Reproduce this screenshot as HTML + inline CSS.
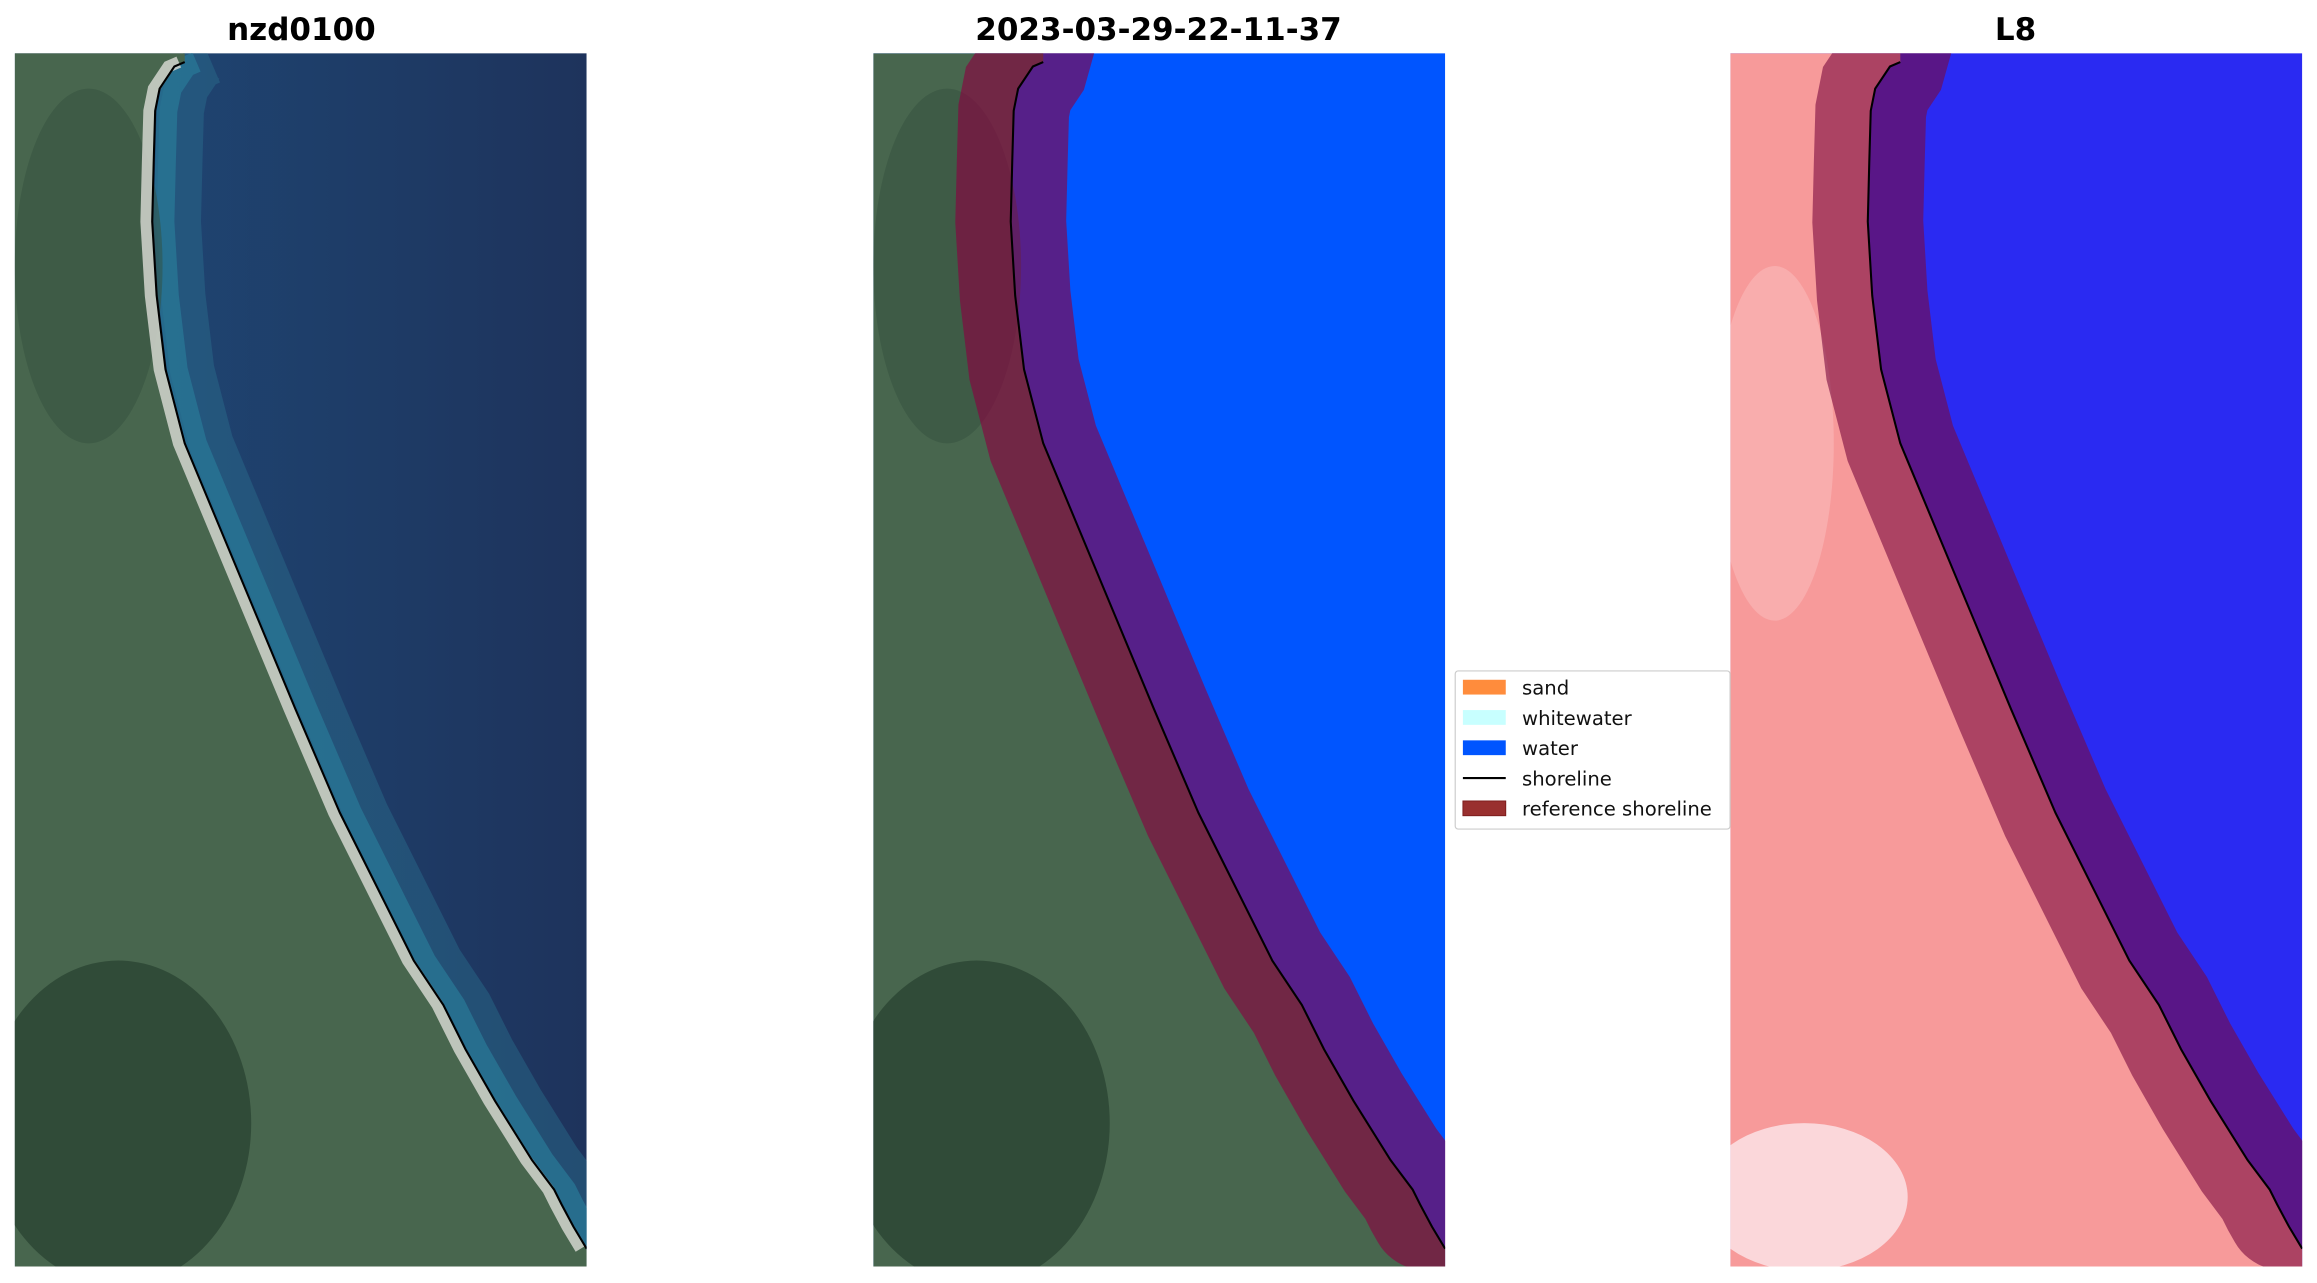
<!DOCTYPE html>
<html><head><meta charset="utf-8"><style>html,body{margin:0;padding:0;background:#fff}svg{display:block}</style></head>
<body>
<svg width="2317" height="1283" viewBox="0 0 1568 868.2" preserveAspectRatio="none" xmlns="http://www.w3.org/2000/svg">
<defs>
<path id="sh" d="M125,42 L118,45 L108,60 L105,75 L104,110 L103,150 L106,200 L112,250 L125,300 L150,360 L175,420 L200,480 L230,550 L260,610 L280,650 L300,680 L315,710 L335,745 L360,785 L375,805 L380,815 L388,830 L397,845"/>
<path id="band" d="M125,20 L118,45 L108,60 L105,75 L104,110 L103,150 L106,200 L112,250 L125,300 L150,360 L175,420 L200,480 L230,550 L260,610 L280,650 L300,680 L315,710 L335,745 L360,785 L375,805 L380,815 L384,822"/>
<path id="land" d="M125,36 L125,42 L118,45 L108,60 L105,75 L104,110 L103,150 L106,200 L112,250 L125,300 L150,360 L175,420 L200,480 L230,550 L260,610 L280,650 L300,680 L315,710 L335,745 L360,785 L375,805 L380,815 L388,830 L397,845 L397,857 L10,857 L10,36 Z"/>
<clipPath id="c"><rect x="10" y="36" width="387" height="821"/></clipPath>
<linearGradient id="sea" x1="0" x2="1" y1="0" y2="0"><stop offset="0" stop-color="#1f4a78"/><stop offset="1" stop-color="#1e335c"/></linearGradient>
</defs>
<g font-family="'DejaVu Sans','Liberation Sans',sans-serif" font-weight="bold" font-size="21" text-anchor="middle">
<text x="204" y="27">nzd0100</text>
<text x="784" y="27">2023-03-29-22-11-37</text>
<text x="1364" y="27">L8</text>
</g>
<!-- panel 1 -->
<g clip-path="url(#c)">
<rect x="10" y="36" width="387" height="821" fill="url(#sea)"/>
<use href="#sh" transform="translate(18,0)" fill="none" stroke="#2a6f8f" stroke-width="30" opacity="0.45"/>
<use href="#sh" transform="translate(8,0)" fill="none" stroke="#2a7a98" stroke-width="14" opacity="0.7"/>
<use href="#land" fill="#48664e"/>
<ellipse cx="80" cy="760" rx="90" ry="110" fill="#22382a" opacity="0.6"/>
<ellipse cx="60" cy="180" rx="50" ry="120" fill="#33503d" opacity="0.5"/>
<use href="#sh" transform="translate(-4,0)" fill="none" stroke="#d4d6cf" stroke-width="8" opacity="0.85"/>
<use href="#sh" fill="none" stroke="#000" stroke-width="1.4"/>
</g>
<!-- panel 2 -->
<g transform="translate(581,0)" clip-path="url(#c)">
<rect x="10" y="36" width="387" height="821" fill="#0055ff"/>
<use href="#land" fill="#48664e"/>
<ellipse cx="80" cy="760" rx="90" ry="110" fill="#22382a" opacity="0.6"/>
<ellipse cx="60" cy="180" rx="50" ry="120" fill="#33503d" opacity="0.5"/>
<use href="#band" fill="none" stroke="#8a0040" stroke-width="75" stroke-linecap="round" opacity="0.62"/>
<use href="#sh" fill="none" stroke="#000" stroke-width="1.4"/>
</g>
<!-- panel 3 -->
<g transform="translate(1161,0)" clip-path="url(#c)">
<rect x="10" y="36" width="387" height="821" fill="#2a2af2"/>
<use href="#land" fill="#f79a9a"/>
<ellipse cx="60" cy="810" rx="70" ry="50" fill="#fbe6ea" opacity="0.8"/>
<ellipse cx="40" cy="300" rx="40" ry="120" fill="#fbc0c0" opacity="0.5"/>
<use href="#band" fill="none" stroke="#7a0a40" stroke-width="75" stroke-linecap="round" opacity="0.6"/>
<use href="#sh" fill="none" stroke="#000" stroke-width="1.4"/>
</g>
<!-- legend -->
<g>
<rect x="984.8" y="454" width="186" height="107" rx="2" fill="#fff" stroke="#ccc" stroke-width="0.8"/>
<rect x="990" y="460" width="29" height="10" fill="#ff8c3c"/>
<rect x="990" y="480.5" width="29" height="10" fill="#c8ffff"/>
<rect x="990" y="501" width="29" height="10" fill="#0055ff"/>
<line x1="990" y1="526.5" x2="1019" y2="526.5" stroke="#000" stroke-width="1.5"/>
<rect x="990" y="542" width="29" height="10" fill="#99302f" stroke="#7a1a1a" stroke-width="0.6"/>
<g font-family="'DejaVu Sans','Liberation Sans',sans-serif" font-size="13.3" fill="#111">
<text x="1030" y="470">sand</text>
<text x="1030" y="490.5">whitewater</text>
<text x="1030" y="511">water</text>
<text x="1030" y="531.5">shoreline</text>
<text x="1030" y="552">reference shoreline</text>
</g>
</g>
</svg>
</body></html>
